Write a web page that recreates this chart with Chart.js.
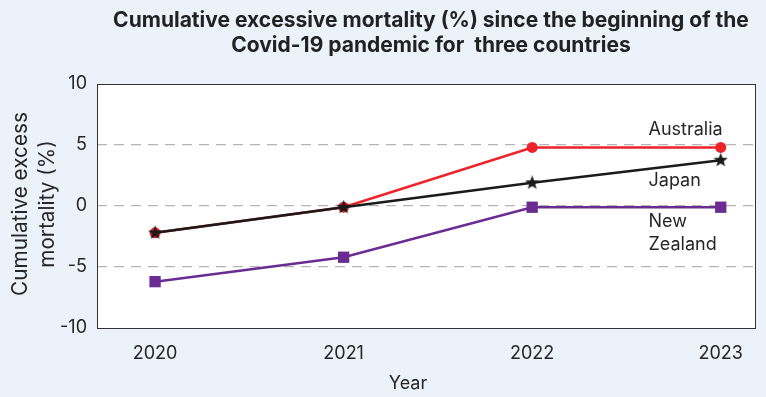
<!DOCTYPE html>
<html>
<head>
<meta charset="utf-8">
<script src="https://cdn.jsdelivr.net/npm/chart.js@4"></script>
<style>
  html, body { margin: 0; padding: 0; background: #ebf2fa; }
  #wrap { width: 766px; height: 397px; position: relative; }
</style>
</head>
<body>
<div id="wrap"><canvas id="c" width="766" height="397"></canvas></div>
<script>
// Years on the x axis
const years = [2020, 2021, 2022, 2023];
// Cumulative excess mortality (%) per country
const australia = [-2.2, -0.1, 4.8, 4.8];
const japan = [-2.2, -0.1, 1.9, 3.75];
const newZealand = [-6.2, -4.2, -0.1, -0.1];
// Y axis tick values
const yTicks = [-10, -5, 0, 5, 10];

const titleLines = ['Cumulative excessive mortality (%) since the beginning of the',
                    'Covid-19 pandemic for  three countries'];
const yTitleLines = ['Cumulative excess', 'mortality (%)'];
const xTitle = 'Year';

const family = 'Inter, "Noto Sans", sans-serif';
const ink = '#262626';

// Filled five-point star used as Japan's marker
function makeStar(size, color) {
  const cv = document.createElement('canvas');
  cv.width = size; cv.height = size;
  const g = cv.getContext('2d');
  const cx = size / 2, cy = size / 2, ro = size / 2, ri = ro * 0.42;
  g.beginPath();
  for (let i = 0; i < 10; i++) {
    const r = i % 2 === 0 ? ro : ri;
    const a = -Math.PI / 2 + i * Math.PI / 5;
    const px = cx + r * Math.cos(a), py = cy + r * Math.sin(a);
    if (i === 0) g.moveTo(px, py); else g.lineTo(px, py);
  }
  g.closePath();
  g.fillStyle = color;
  g.fill();
  return cv;
}
const star = makeStar(15, '#1a1a1a');

const toPoints = arr => arr.map((v, i) => ({ x: years[i], y: v }));

// Country names placed beside the right end of the lines (in data units)
const seriesLabels = [
  { text: 'Australia', x: 2022.617, y: 6.3 },
  { text: 'Japan', x: 2022.617, y: 2.05 },
  { text: 'New', x: 2022.617, y: -1.3 },
  { text: 'Zealand', x: 2022.617, y: -3.2 }
];

// Largest font size (px) whose text width stays within `width`
function fitSize(ctx, text, weight, width, start) {
  let s = start;
  for (; s > 6; s -= 0.25) {
    ctx.font = `${weight} ${s}px ${family}`;
    if (ctx.measureText(text).width <= width) break;
  }
  return s;
}

const frame = {
  id: 'frame',
  beforeDraw(chart) {
    const { ctx, chartArea: a } = chart;
    ctx.save();
    ctx.fillStyle = '#ffffff';
    ctx.fillRect(a.left, a.top, a.right - a.left, a.bottom - a.top);
    ctx.restore();
  },
  afterDatasetsDraw(chart) {
    const { ctx, chartArea: a, scales } = chart;
    ctx.save();
    ctx.strokeStyle = '#333333';
    ctx.lineWidth = 1;
    ctx.strokeRect(a.left + 0.5, a.top + 0.5, a.right - a.left - 1, a.bottom - a.top);

    // series names
    ctx.font = `18px ${family}`;
    ctx.fillStyle = ink;
    ctx.textAlign = 'left';
    ctx.textBaseline = 'middle';
    seriesLabels.forEach(l => {
      ctx.fillText(l.text, scales.x.getPixelForValue(l.x), scales.y.getPixelForValue(l.y));
    });

    // chart title
    const ts = fitSize(ctx, titleLines[0], 'bold', 642, 26);
    ctx.font = `bold ${ts}px ${family}`;
    ctx.fillStyle = '#222222';
    ctx.textAlign = 'center';
    ctx.fillText(titleLines[0], 431, 21);
    ctx.fillText(titleLines[1], 431, 46);

    // x axis title
    ctx.font = `18px ${family}`;
    ctx.fillStyle = ink;
    ctx.fillText(xTitle, 408, 384);

    // y axis title (rotated)
    const ys = fitSize(ctx, yTitleLines[0], 'normal', 185, 26);
    ctx.font = `${ys}px ${family}`;
    ctx.translate(0, 204);
    ctx.rotate(-Math.PI / 2);
    ctx.fillText(yTitleLines[0], 0, 21);
    ctx.fillText(yTitleLines[1], 0, 48);
    ctx.restore();
  }
};

new Chart(document.getElementById('c'), {
  type: 'line',
  data: {
    datasets: [
      {
        label: 'Australia', data: toPoints(australia), order: 1,
        borderColor: '#ee2229', backgroundColor: '#ee2229', borderWidth: 2.5,
        pointStyle: 'circle', pointRadius: 5.5, pointBorderWidth: 0
      },
      {
        label: 'Japan', data: toPoints(japan), order: 0,
        borderColor: '#1a1a1a', backgroundColor: '#1a1a1a', borderWidth: 2.5,
        pointStyle: star, pointRadius: 7
      },
      {
        label: 'New Zealand', data: toPoints(newZealand), order: 2,
        borderColor: '#6a2c91', backgroundColor: '#6a2c91', borderWidth: 2.5,
        pointStyle: 'rect', pointRadius: 8, pointBorderWidth: 0
      }
    ]
  },
  options: {
    responsive: false,
    animation: false,
    events: [],
    layout: { padding: { top: 84, right: 10, left: 0, bottom: 0 } },
    plugins: { legend: { display: false }, tooltip: { enabled: false }, title: { display: false } },
    scales: {
      x: {
        type: 'linear',
        min: 2019.692,
        max: 2023.187,
        afterBuildTicks: s => { s.ticks = years.map(v => ({ value: v })); },
        afterFit: s => { s.height = 69; },
        grid: { display: false, drawTicks: false },
        border: { display: false },
        ticks: { color: ink, font: { family, size: 18 }, padding: 15,
                 callback: v => String(v), maxRotation: 0 }
      },
      y: {
        min: -10,
        max: 10,
        afterBuildTicks: s => { s.ticks = yTicks.map(v => ({ value: v })); },
        afterFit: s => { s.width = 97; },
        grid: {
          drawTicks: false,
          color: c => (Math.abs(c.tick.value) === 10 ? 'rgba(0,0,0,0)' : '#b4b4b4'),
          lineWidth: 1.2
        },
        border: { display: false, dash: [10, 7] },
        ticks: { color: ink, font: { family, size: 18 }, padding: 10 }
      }
    }
  },
  plugins: [frame]
});
</script>
</body>
</html>
